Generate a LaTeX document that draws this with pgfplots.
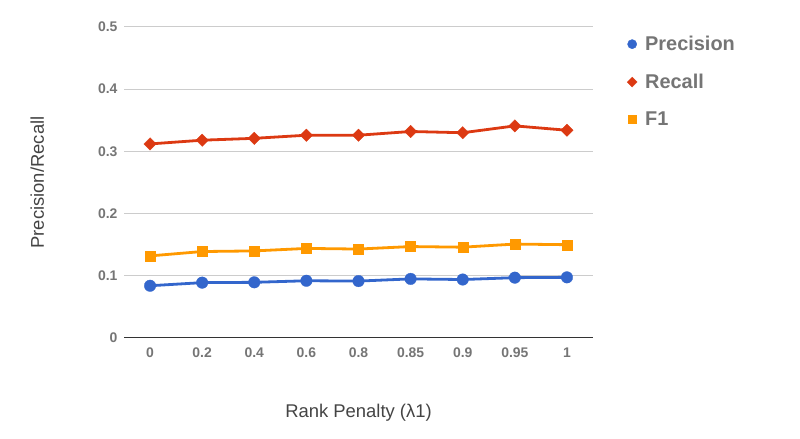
\documentclass[border=0pt]{standalone}
\usepackage{fontspec}
\setmainfont{Liberation Sans}
\usepackage{pgfplots}
\pgfplotsset{compat=1.18}
\definecolor{cPrec}{HTML}{3366CC}
\definecolor{cRec}{HTML}{DC3912}
\definecolor{cF}{HTML}{FF9900}
\definecolor{tickgray}{HTML}{757575}
\definecolor{labgray}{HTML}{444444}
\definecolor{gridgray}{HTML}{CCCCCC}
\begin{document}
\begin{tikzpicture}[x=1bp,y=1bp]
\useasboundingbox (0,0) rectangle (800,439);
\begin{axis}[
  at={(124bp,101bp)}, anchor=south west,
  scale only axis, width=469bp, height=311bp,
  xmin=-0.5, xmax=8.5, ymin=0, ymax=0.5,
  xtick={0,...,8},
  xticklabels={0,0.2,0.4,0.6,0.8,0.85,0.9,0.95,1},
  ytick={0,0.1,0.2,0.3,0.4,0.5},
  yticklabels={0,0.1,0.2,0.3,0.4,0.5},
  axis line style={draw=none},
  major tick length=0pt,
  ymajorgrids, grid style={gridgray, line width=1bp},
  extra y ticks={0}, extra y tick labels={},
  extra y tick style={grid style={black!80, line width=1bp}},
  ticklabel style={font=\bfseries\fontsize{14}{16}\selectfont, text=tickgray},
  yticklabel style={xshift=-3bp},
  xticklabel style={yshift=-6bp},
  xlabel={Rank Penalty (λ1)},
  ylabel={Precision/Recall},
  label style={font=\fontsize{18.5}{22}\selectfont, text=labgray},
  xlabel style={at={(0.5,-0.24)}, anchor=center},
  ylabel style={at={(-0.185,0.5)}, anchor=center},
  legend style={at={(1.0725,0.9775)}, anchor=north west, draw=none,
    font=\bfseries\fontsize{20}{23}\selectfont, text=tickgray,
    row sep=18bp, column sep=6bp, legend cell align=left, inner sep=0pt},
  legend image code/.code={\draw[every mark/.append style={scale=0.8}] plot[only marks] coordinates {(5bp,0bp)};},
  every axis plot/.append style={line width=2.8bp},
]
\addplot[cPrec, mark=*, mark size=5.8bp, mark options={solid, line width=0.3bp}] coordinates {
  (0,0.084) (1,0.089) (2,0.0895) (3,0.092) (4,0.0915) (5,0.095) (6,0.094) (7,0.097) (8,0.0975)};
\addlegendentry{Precision}
\addplot[cRec, mark=square*, mark size=4.4bp, mark options={solid, line width=0.3bp, rotate=45}] coordinates {
  (0,0.312) (1,0.318) (2,0.321) (3,0.326) (4,0.326) (5,0.332) (6,0.330) (7,0.341) (8,0.334)};
\addlegendentry{Recall}
\addplot[cF, mark=square*, mark size=5bp, mark options={solid, line width=0.3bp}] coordinates {
  (0,0.132) (1,0.139) (2,0.140) (3,0.144) (4,0.143) (5,0.147) (6,0.146) (7,0.151) (8,0.150)};
\addlegendentry{F1}
\end{axis}
\end{tikzpicture}
\end{document}
